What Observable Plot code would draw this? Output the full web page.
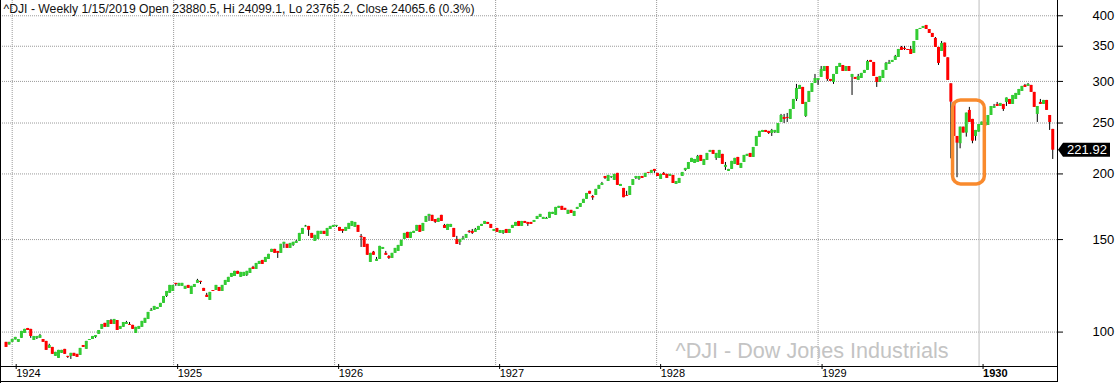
<!DOCTYPE html>
<html><head><meta charset="utf-8">
<script src="https://cdn.jsdelivr.net/npm/d3@7"></script>
<script src="https://cdn.jsdelivr.net/npm/@observablehq/plot@0.6"></script>
<style>html,body{margin:0;padding:0;background:#fff;overflow:hidden}</style>
</head><body>
<script>
const title = "^DJI - Weekly 1/15/2019 Open 23880.5, Hi 24099.1, Lo 23765.2, Close 24065.6 (0.3%)";
const watermark = "^DJI - Dow Jones Industrials";
const firstWeek = "1923-12-18";
const yTicks = [100, 150, 200, 250, 300, 350, 400];
const yearTicks = ["1924", "1925", "1926", "1927", "1928", "1929"];
const boldYear = "1930";

const open = [
95.6,94.5,95.6,96.6,95.6,97.3,99.4,101.6,101.2,96.4,
97.3,97.3,96.8,96.0,93.1,93.5,89.9,89.1,91.1,92.7,
89.9,89.9,91.1,90.7,90.3,94.3,92.7,96.4,96.8,97.7,
99.0,101.2,103.9,102.1,105.2,103.4,105.2,101.2,102.1,103.4,
103.4,103.0,99.4,101.2,102.1,103.9,105.7,109.5,110.0,110.4,
111.4,113.4,116.9,118.5,119.5,123.8,122.2,122.2,120.6,122.7,
117.9,121.6,123.8,124.9,121.1,117.5,114.9,120.0,120.0,121.6,
119.5,122.7,124.3,127.1,127.6,130.5,127.1,127.6,128.2,129.3,
132.8,131.6,134.5,136.9,135.7,137.5,141.8,143.7,142.4,141.2,
146.9,146.9,144.3,146.2,147.5,148.8,153.4,158.5,158.9,154.1,
148.8,150.1,153.4,155.5,152.1,156.8,158.2,158.9,158.2,156.8,
155.5,156.8,158.9,158.2,159.6,152.1,151.4,146.9,135.7,142.0,
136.3,137.5,143.7,141.2,139.3,138.1,141.2,142.4,145.6,150.1,
154.8,150.8,154.1,155.5,159.6,155.5,161.7,166.0,166.8,163.8,
161.7,166.8,159.6,156.1,158.2,157.5,150.1,148.1,149.8,150.8,
155.5,155.5,154.8,156.1,158.9,160.3,161.7,160.3,155.5,157.5,
154.1,154.1,156.8,154.1,157.5,158.9,162.4,158.9,162.4,161.7,
161.7,161.7,163.8,165.3,163.8,163.8,164.6,167.5,166.8,172.0,
173.5,172.0,167.5,170.5,166.0,171.2,172.7,175.7,178.9,185.3,
181.2,182.0,186.9,190.2,197.8,193.5,197.0,194.4,200.5,189.3,
187.7,182.0,182.0,190.2,196.1,195.2,197.8,197.0,201.3,200.5,
204.0,200.5,195.2,200.5,199.6,197.8,198.7,191.0,191.8,197.8,
203.1,204.0,210.3,209.4,210.3,216.9,207.6,212.2,219.8,221.7,
214.1,214.1,217.9,205.8,202.2,204.0,208.5,215.0,204.9,210.3,
216.0,218.8,215.0,225.6,234.7,239.9,242.0,241.0,238.8,239.9,
238.8,250.6,256.2,256.2,254.0,265.3,277.2,289.6,292.2,257.3,
273.6,285.9,297.3,301.3,305.3,313.4,320.3,302.6,298.6,309.3,
318.9,321.7,313.4,320.3,305.3,305.3,301.3,303.9,310.7,314.8,
328.9,326.0,305.3,298.6,303.9,314.8,323.2,326.0,328.9,333.2,
348.2,346.7,345.1,345.1,339.1,359.0,376.7,378.4,383.4,376.7,
370.2,362.2,348.2,342.1,354.9,332.7,296.9,273.6,235.7,228.3,
245.5,239.2,264.2,254.0,235.7,240.2,247.3,250.6,247.3,258.4,
266.5,271.2,268.8,271.2,273.6,277.2,271.2,277.2,282.1,287.1,
294.8,293.5,294.8,285.9,259.6,273.6,271.2,276.0,258.4,243.1
];
const close = [
93.5,95.6,96.8,97.7,96.8,100.3,101.2,100.7,98.1,98.1,
98.1,98.5,95.6,92.3,94.3,90.7,91.5,92.3,92.3,90.7,
89.5,91.1,89.9,89.5,93.1,93.5,96.0,96.8,98.1,98.5,
100.7,103.4,102.1,105.2,103.4,105.7,100.7,102.5,104.3,104.3,
103.0,101.2,102.1,102.5,104.8,106.2,109.0,110.0,111.9,111.4,
113.4,116.9,119.5,122.7,122.7,123.2,123.8,123.8,122.2,121.1,
122.2,123.2,125.4,124.3,119.5,116.4,119.0,119.5,122.7,119.5,
122.7,125.4,127.1,129.3,130.5,128.8,129.9,129.9,130.5,132.2,
131.6,135.1,136.3,134.5,138.7,140.6,143.7,141.2,141.2,146.9,
148.2,144.3,147.5,148.2,148.8,154.1,157.5,159.2,156.2,150.8,
152.8,155.5,155.5,153.4,157.5,158.9,159.6,159.6,155.5,155.5,
158.2,161.0,162.4,161.7,154.8,151.4,144.9,140.0,141.2,140.0,
137.5,145.6,144.9,140.0,138.1,141.2,144.3,146.2,149.5,154.1,
150.8,154.8,155.5,159.6,154.8,161.0,166.0,167.5,162.4,161.7,
164.6,162.4,157.5,160.3,160.3,151.4,146.8,150.1,150.8,153.4,
154.8,154.1,156.8,158.9,160.3,162.4,160.3,157.5,156.8,154.8,
156.1,156.1,154.1,156.8,159.6,161.7,158.9,162.4,161.0,160.3,
160.3,163.1,166.0,167.5,165.3,164.6,169.0,169.0,172.7,173.5,
170.5,170.5,170.5,168.2,169.7,172.7,175.7,178.9,183.6,183.0,
180.0,186.9,190.2,191.8,196.1,198.7,197.8,199.6,190.2,191.0,
180.2,181.3,189.3,195.2,197.8,197.8,196.1,200.5,200.5,203.1,
202.2,197.8,199.6,198.7,196.1,199.6,191.8,193.5,196.1,201.3,
204.9,210.3,214.1,213.1,216.0,211.3,213.1,218.8,221.7,217.9,
218.8,221.7,208.5,207.6,204.0,211.3,214.1,207.6,209.4,216.9,
217.9,215.0,224.6,235.7,241.0,242.0,239.9,238.8,242.0,242.0,
249.5,258.4,254.0,255.1,265.3,277.2,290.9,294.8,271.2,273.6,
287.1,297.3,303.9,303.9,316.2,320.3,302.6,300.0,309.3,320.3,
324.6,313.4,320.3,313.4,309.3,302.6,306.6,310.7,314.8,327.4,
326.0,306.6,298.6,306.6,314.8,324.6,326.0,328.9,334.7,345.1,
343.6,345.1,343.6,337.6,357.4,376.7,378.4,381.7,376.7,370.2,
363.7,348.2,324.6,354.3,333.7,301.3,274.0,235.7,228.9,245.5,
239.2,261.1,250.6,230.9,242.0,248.4,251.0,246.3,258.4,268.8,
268.8,268.8,272.4,265.3,279.0,271.2,282.1,284.6,289.6,293.5,
292.2,296.1,285.9,267.7,268.8,271.2,276.0,264.2,250.6,221.92
];
// wick extremes beyond the body (bar index -> value)
const wickHigh = {11:99.0,14:94.8,34:105.7,39:104.8,40:104.3,47:110.9,62:126.0,65:118.5,80:133.4,94:149.5,97:159.6,
115:153.4,119:142.4,120:138.7,123:142.4,124:139.8,142:160.3,146:152.1,148:152.1,150:156.1,151:156.8,152:157.5,
175:165.3,190:182.0,193:192.7,201:185.3,213:201.3,224:216.9,233:210.3,248:243.1,251:259.6,252:259.6,253:260.7,
256:296.1,262:309.3,264:320.3,276:309.3,279:328.9,285:326.0,286:328.9,288:336.2,290:349.7,291:349.7,293:349.7,
301:363.7,303:357.4,312:267.7,320:271.2,321:273.6,330:296.1,331:297.3,335:277.2};
const wickLow = {8:97.3,10:96.8,20:89.1,21:88.7,29:97.3,52:116.4,55:122.2,63:123.2,78:127.6,88:138.1,90:144.3,93:145.6,
98:152.1,107:158.2,109:154.1,115:144.9,124:137.5,137:162.4,139:161.0,147:146.2,150:154.1,151:153.4,161:153.4,169:158.9,
190:178.1,194:195.2,196:196.1,204:195.2,205:194.4,210:200.5,220:202.2,230:212.2,233:203.1,247:237.8,248:235.7,249:238.8,
252:249.5,253:250.6,256:274.8,259:256.2,263:294.8,266:300.0,268:296.1,274:282.1,282:292.2,291:343.6,302:321.7,
306:213.7,308:196.7,309:223.3,311:235.0,313:228.3,314:230.9,323:263.0,324:268.8,334:250.6,338:242.0,339:213.1};

const highlight = [{start: "1929-11-03", end: "1930-01-14", low: 191, high: 276}];

const bars = open.map((o, i) => ({
  date: d3.utcDay.offset(new Date(firstWeek), 7 * i),
  open: o, close: close[i],
  high: wickHigh[i] ?? Math.max(o, close[i]),
  low: wickLow[i] ?? Math.min(o, close[i])
}));
const up = bars.filter(d => d.close >= d.open);
const down = bars.filter(d => d.close < d.open);
const years = yearTicks.map(y => new Date(y + "-01-01"));
const year1930 = new Date(boldYear + "-01-01");
const xDomain = [new Date("1923-12-05T12:00Z"), new Date("1930-06-27T19:00Z")];
const FONT = "'Liberation Sans', Arial, sans-serif";

const chart = Plot.plot({
  width: 1117, height: 383,
  marginTop: 0, marginRight: 60, marginBottom: 17, marginLeft: 0,
  style: {fontFamily: FONT, background: "#fff", overflow: "visible", color: "#000"},
  x: {type: "utc", domain: xDomain, axis: null},
  y: {type: "log", domain: [86, 427.7], axis: null},
  marks: [
    Plot.gridY(yTicks, {stroke: "#9a9a9a", strokeOpacity: 1, strokeDasharray: "1,1"}),
    Plot.gridX(years, {stroke: "#9a9a9a", strokeOpacity: 1, strokeDasharray: "1,1"}),
    Plot.ruleX([year1930], {stroke: "#bdbdbd"}),
    Plot.ruleX(bars, {x: "date", y1: "low", y2: "high", stroke: "#000"}),
    Plot.ruleX(up, {x: "date", y1: "open", y2: "close", stroke: "#33cc33", strokeWidth: 3}),
    Plot.ruleX(down, {x: "date", y1: "open", y2: "close", stroke: "#ff0000", strokeWidth: 3}),
    Plot.rect(highlight, {x1: d => new Date(d.start), x2: d => new Date(d.end), y1: "low", y2: "high",
      stroke: "#f98a2d", strokeWidth: 3.5, fill: "none", rx: 8, ry: 8}),
    Plot.axisY(yTicks, {anchor: "right", tickSize: 5, tickPadding: 30, fontSize: 13, tickFormat: d => String(d)}),
    Plot.axisX(years, {anchor: "bottom", tickSize: 5, tickPadding: 0, textAnchor: "start", dx: 4, dy: -2, fontSize: 11, tickFormat: "%Y"}),
    Plot.axisX([year1930], {anchor: "bottom", tickSize: 5, tickPadding: 0, textAnchor: "start", dx: 4, dy: -2, fontSize: 11, fontWeight: "bold", tickFormat: "%Y"}),
    Plot.text([title], {text: d => d, frameAnchor: "top-left", dx: 3, dy: 4, textAnchor: "start", lineAnchor: "top", fontSize: 12.2, fill: "#111"}),
    Plot.text([watermark], {text: d => d, frameAnchor: "bottom-right", dx: -109, dy: -9, textAnchor: "end", lineAnchor: "bottom", fontSize: 21.6, fill: "#c4c4c4"})
  ]
});
document.body.appendChild(chart);

// frame lines and last-price tag
const svg = d3.select(chart);
const right = 1117 - 60, bottom = 383 - 17;
const g = svg.append("g").attr("stroke", "#000").attr("shape-rendering", "crispEdges");
g.append("line").attr("x1", 0.5).attr("x2", 0.5).attr("y1", 0).attr("y2", 383);
g.append("line").attr("x1", right + 0.5).attr("x2", right + 0.5).attr("y1", 0).attr("y2", 382);
g.append("line").attr("x1", 0).attr("x2", right + 0.5).attr("y1", bottom + 0.5).attr("y2", bottom + 0.5);
g.append("line").attr("x1", 0).attr("x2", right + 0.5).attr("y1", 381.5).attr("y2", 381.5);

const last = close[close.length - 1];
const yl = chart.scale("y").apply(last);
svg.append("polygon")
  .attr("points", [[right + 1, yl], [right + 6, yl - 7], [1110, yl - 7], [1110, yl + 7], [right + 6, yl + 7]].map(p => p.join(",")).join(" "))
  .attr("fill", "#000");
svg.append("text").attr("x", 1087).attr("y", yl + 4.5).attr("text-anchor", "middle")
  .attr("fill", "#fff").attr("font-size", 13).attr("font-family", FONT).text(last.toFixed(2));
</script>
</body></html>
